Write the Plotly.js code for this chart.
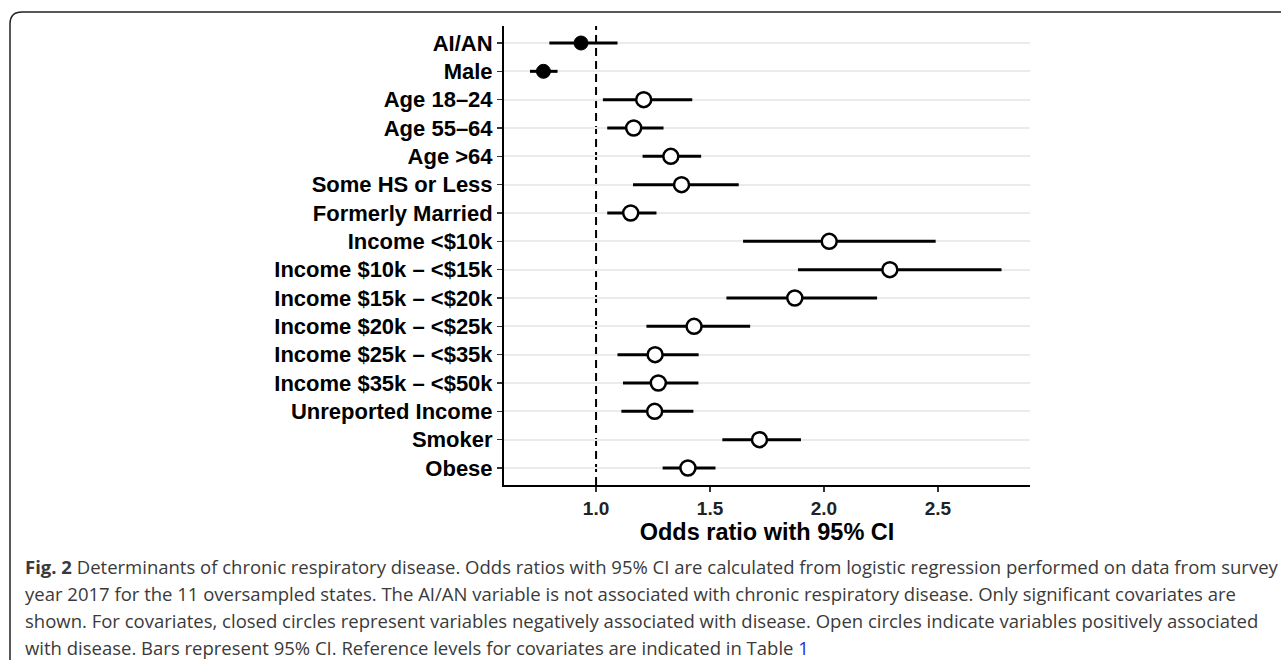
<!DOCTYPE html>
<html>
<head>
<meta charset="utf-8">
<script src="https://cdn.plot.ly/plotly-3.0.1.min.js"></script>
<style>html,body{margin:0;padding:0;background:#fff;}#chart{width:1281px;height:662px;}</style>
</head>
<body>
<div id="chart"></div>
<script>
const categories = ['AI/AN','Male','Age 18–24','Age 55–64','Age >64','Some HS or Less','Formerly Married',
  'Income &lt;$10k','Income $10k – &lt;$15k','Income $15k – &lt;$20k','Income $20k – &lt;$25k',
  'Income $25k – &lt;$35k','Income $35k – &lt;$50k','Unreported Income','Smoker','Obese'];
const oddsRatio = [0.934,0.769,1.209,1.165,1.328,1.375,1.152,2.023,2.289,1.872,1.430,1.259,1.273,1.257,1.717,1.403];
const ciLower   = [0.795,0.710,1.030,1.049,1.204,1.162,1.049,1.645,1.886,1.572,1.221,1.094,1.118,1.111,1.554,1.292];
const ciUpper   = [1.094,0.831,1.422,1.296,1.461,1.626,1.265,2.490,2.779,2.233,1.676,1.450,1.449,1.427,1.899,1.524];
const association = ['negative','negative','positive','positive','positive','positive','positive','positive',
  'positive','positive','positive','positive','positive','positive','positive','positive'];
const xTicks = [1.0,1.5,2.0,2.5];
const xTickLabels = ['1.0','1.5','2.0','2.5'];
const xTitle = 'Odds ratio with 95% CI';
const captionLines = [
  '<b>Fig. 2</b> Determinants of chronic respiratory disease. Odds ratios with 95% CI are calculated from logistic regression performed on data from survey',
  'year 2017 for the 11 oversampled states. The AI/AN variable is not associated with chronic respiratory disease. Only significant covariates are',
  'shown. For covariates, closed circles represent variables negatively associated with disease. Open circles indicate variables positively associated',
  'with disease. Bars represent 95% CI. Reference levels for covariates are indicated in Table <span style="color:#2b2bd9">1</span>'
];

// plot geometry (pixels)
const W = 1281, H = 662, L = 504, R = 1030, T = 26, B = 485;
const px = v => (v - L) / (R - L);
const py = v => (B - v) / (B - T);

function makeTrace(kind) {
  const idx = association.map((a,i)=>a===kind?i:-1).filter(i=>i>=0);
  const filled = kind === 'negative';
  return {
    type: 'scatter', mode: 'markers',
    x: idx.map(i=>oddsRatio[i]), y: idx.map(i=>categories[i]),
    error_x: {type:'data', symmetric:false,
      array: idx.map(i=>ciUpper[i]-oddsRatio[i]),
      arrayminus: idx.map(i=>oddsRatio[i]-ciLower[i]),
      color:'#000', thickness:3, width:0},
    marker: {symbol:'circle', size: filled?14:15, color: filled?'#000':'#fff',
      line:{color:'#000', width: filled?1:2.5}},
    hoverinfo:'x+y', showlegend:false, cliponaxis:false
  };
}

const annotations = captionLines.map((t,i)=>({
  text: t, xref:'paper', yref:'paper', x: px(23), y: py(566 + i*27),
  xanchor:'left', yanchor:'middle', showarrow:false, align:'left',
  font:{family:'Open Sans, sans-serif', size:18.5, color:'#3a3a3a'}
}));

const layout = {
  width: W, height: H,
  margin: {l: L, r: W - R, t: T, b: H - B, pad: 0},
  paper_bgcolor:'#fff', plot_bgcolor:'#fff',
  showlegend:false,
  xaxis: {range:[0.596, 2.904], tickvals:xTicks, ticktext:xTickLabels,
    showgrid:false, zeroline:false, showline:true, linecolor:'#000', linewidth:2,
    ticks:'outside', ticklen:5, tickwidth:1.5, tickcolor:'#333',
    tickfont:{family:'Liberation Sans, Arial, sans-serif', size:19, color:'#222', weight:'bold'},
    title:{text:xTitle, standoff:3, font:{family:'Liberation Sans, Arial, sans-serif', size:23.5, color:'#000', weight:'bold'}}},
  yaxis: {type:'category', categoryorder:'array', categoryarray:categories,
    range:[categories.length-0.4, -0.6],
    showgrid:true, gridcolor:'#ebebeb', gridwidth:2, zeroline:false,
    showline:true, linecolor:'#000', linewidth:2,
    ticks:'outside', ticklen:5, tickwidth:1.5, tickcolor:'#333',
    tickfont:{family:'Liberation Sans, Arial, sans-serif', size:22, color:'#000', weight:'bold'}},
  shapes: [
    {type:'line', xref:'x', yref:'paper', x0:1, x1:1, y0:0, y1:1,
     line:{color:'#000', width:2, dash:'8px,5px'}, layer:'between'},
    {type:'path', xref:'paper', yref:'paper',
     path:`M ${px(1281)} ${py(12)} L ${px(22)} ${py(12)} Q ${px(10)} ${py(12)} ${px(10)} ${py(24)} L ${px(10)} ${py(660)}`,
     line:{color:'#222', width:1.5}}
  ],
  annotations: annotations
};

Plotly.newPlot('chart', [makeTrace('negative'), makeTrace('positive')], layout, {displayModeBar:false, staticPlot:true});
</script>
</body>
</html>
